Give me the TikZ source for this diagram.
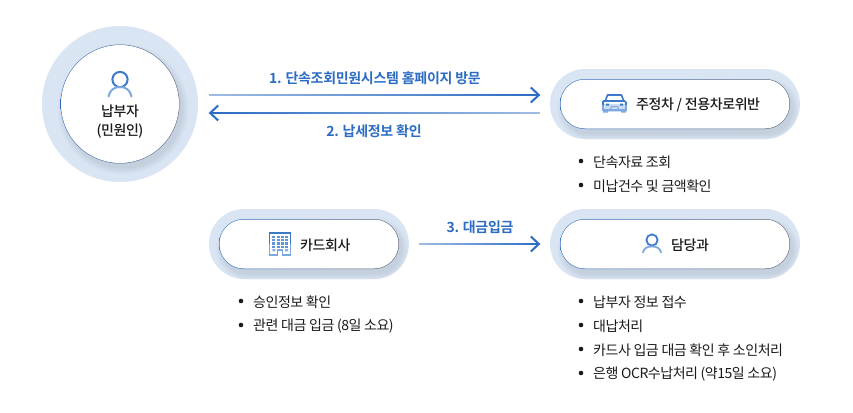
\documentclass[tikz,border=0pt]{standalone}
\usepackage{fontspec}
\setmainfont[LetterSpace=-3.4]{Noto Sans CJK KR}
\newfontfamily\medfont[LetterSpace=-3]{Noto Sans CJK KR Medium}
\newfontfamily\linkfont[LetterSpace=-2.2]{Noto Sans CJK KR Bold}
\usetikzlibrary{shapes.misc,calc,arrows.meta,fadings}
\definecolor{halo}{HTML}{DAE5F3}
\definecolor{linkblue}{HTML}{2C6CC4}
\definecolor{iconblue}{HTML}{3B7ACB}
\definecolor{iconlight}{HTML}{7DA8E0}
\definecolor{ringgrey}{HTML}{5A6070}
\definecolor{inktext}{HTML}{1A1A1A}
\tikzfading[name=linkfadeE,left color=transparent!55,right color=transparent!0]
\tikzfading[name=linkfadeW,left color=transparent!0,right color=transparent!55]
\tikzset{
  x=1pt,y=-1pt,
  haloround/.style={circle,fill=halo,minimum size=156pt,inner sep=0pt},
  halopill/.style={rounded rectangle,fill=halo,minimum height=70pt,inner sep=0pt},
  ringpill/.style={rounded rectangle,left color=linkblue,right color=ringgrey,minimum height=50pt,inner sep=0pt},
  whitepill/.style={rounded rectangle,fill=white,minimum height=49pt,inner sep=0pt},
  title/.style={font=\fontsize{14}{19}\medfont,text=inktext,inner sep=0pt},
  linktext/.style={font=\fontsize{14}{19}\linkfont,text=linkblue,inner sep=0pt},
  itemtext/.style={font=\fontsize{14}{19}\selectfont,text=inktext,anchor=west,inner sep=0pt},
  dotmark/.style={circle,fill=inktext,minimum size=4.6pt,inner sep=0pt},
  linkshaft/.style={line width=2pt,draw=linkblue},
  linkhead/.style={line width=2pt,draw=linkblue,-{Straight Barb[length=8pt,width=15pt,line width=2pt]}},
  softshadow/.style={fill=black,opacity=.012,draw=none},
  headline/.style={draw=iconblue,line width=2pt},
  shoulderline/.style={draw=iconlight,line width=2pt,line cap=round},
}
\newcommand{\pillshadow}[4]{% x1 y1 x2 y2
  \foreach \g in {0,1,...,6}{
    \fill[softshadow,rounded corners={25pt+\g pt}]
      ({#1+3-\g},{#2+5-\g}) rectangle ({#3+3+\g},{#4+5+\g});
  }}
\begin{document}
\begin{tikzpicture}
\useasboundingbox (0,0) rectangle (853,412);
\fill[white] (0,0) rectangle (853,412);

% client circle
\node[haloround] (client) at (120,104) {};
\foreach \g in {0,1,...,6}{\fill[softshadow] (123,109) circle ({59.5pt+\g pt});}
\node[circle,left color=linkblue,right color=ringgrey,minimum size=119pt,inner sep=0pt] (clientring) at (120,104) {};
\node[circle,fill=white,minimum size=118pt,inner sep=0pt] (clientin) at (120,104) {};
\draw[headline] (120,79.5) circle (7.6pt);
\draw[shoulderline] (108.5,96.5) .. controls (110,90) and (114,87) .. (120,87) .. controls (126,87) and (130,90) .. (131.5,96.5);
\node[title,align=center] (clienttext) at (120,122) {납부자\\(민원인)};

% violation
\node[halopill,minimum width=250pt] (car) at (675,104) {};
\pillshadow{560}{79}{790}{129}
\node[ringpill,minimum width=230pt] (carring) at (675,104) {};
\node[whitepill,minimum width=229pt] (carin) at (675,104) {};
\node[title,anchor=west] (cartext) at (636,105) {주정차 / 전용차로위반};
% car icon
\fill[iconlight!40] (603,104) rectangle (626,112);
\draw[iconblue,line width=1.6pt,line join=round] (605.5,100.5) -- (607.5,95) -- (621.5,95) -- (623.5,100.5);
\draw[iconblue,line width=1.6pt,rounded corners=1.5pt] (603,101) -- (626,101) -- (626,105);
\draw[iconblue,line width=1.6pt,rounded corners=1.5pt] (603,105) -- (603,101);
\draw[iconlight,line width=1.6pt] (603,105) -- (603,110) -- (626,110) -- (626,105);
\fill[iconlight] (603,110) rectangle (608,112.5) (621,110) rectangle (626,112.5);
\fill[iconblue] (606,103.5) rectangle (609,105.5) (620,103.5) rectangle (623,105.5);
\draw[iconlight,line width=1pt] (610.5,109) -- (611.5,106.5) -- (617.5,106.5) -- (618.5,109);

% card
\node[halopill,minimum width=200pt] (card) at (309,244) {};
\pillshadow{219}{219}{399}{269}
\node[ringpill,minimum width=180pt] (cardring) at (309,244) {};
\node[whitepill,minimum width=179pt] (cardin) at (309,244) {};
\node[title,anchor=west] (cardtext) at (300,245) {카드회사};
% building icon
\draw[iconlight,line width=1.5pt] (269.5,244) -- (269.5,255) -- (290.5,255) -- (290.5,244);
\draw[iconblue,line width=1.5pt] (269.5,244) -- (269.5,233) -- (290.5,233) -- (290.5,244);
\foreach \cx in {272.3,276.6,280.9,285.2}{
  \foreach \cy in {235.6,239,242.4,245.8}{
    \fill[iconblue!80] (\cx,\cy) rectangle ++(3,2.1);
  }}
\fill[iconblue!60] (272.3,249.2) rectangle ++(3,2.1) (285.2,249.2) rectangle ++(3,2.1);
\draw[iconlight,line width=1.3pt] (277.5,255) -- (277.5,250) -- (282.5,250) -- (282.5,255);
\fill[white] (278.2,250.5) rectangle (281.8,256);

% department
\node[halopill,minimum width=250pt] (dept) at (675,244) {};
\pillshadow{560}{219}{790}{269}
\node[ringpill,minimum width=230pt] (deptring) at (675,244) {};
\node[whitepill,minimum width=229pt] (deptin) at (675,244) {};
\node[title,anchor=west] (depttext) at (671,245) {담당과};
\draw[headline,line width=1.8pt] (652,240) circle (5.6pt);
\draw[shoulderline,line width=1.8pt] (643,252.5) .. controls (644,248) and (647,246.5) .. (652,246.5) .. controls (657,246.5) and (660,248) .. (661,252.5);

% connectors
\draw[linkshaft,path fading=linkfadeE,fit fading=true] ([shift={(11,-9)}]client.east) -- ([shift={(-11,-9)}]car.west);
\draw[linkhead] ([shift={(-12,-9)}]car.west) -- ([shift={(-9.5,-9)}]car.west);
\draw[linkshaft,path fading=linkfadeW,fit fading=true] ([shift={(-10,9)}]car.west) -- ([shift={(12,9)}]client.east);
\draw[linkhead] ([shift={(13,9)}]client.east) -- ([shift={(10.5,9)}]client.east);
\draw[linkshaft,path fading=linkfadeE,fit fading=true] ([xshift=10pt]card.east) -- ([xshift=-11pt]dept.west);
\draw[linkhead] ([xshift=-12pt]dept.west) -- ([xshift=-9.5pt]dept.west);
\node[linktext] (lab1) at (375,78) {1. 단속조회민원시스템 홈페이지 방문};
\node[linktext] (lab2) at (374,131) {2. 납세정보 확인};
\node[linktext] (lab3) at (480,227) {3. 대금입금};

% lists
\foreach \nm/\bx/\tx/\y/\t in {
  a1/581/593/161/단속자료 조회,
  a2/581/593/185/미납건수 및 금액확인,
  b1/241/253/301/승인정보 확인,
  b2/241/253/325/관련 대금 입금 (8일 소요),
  c1/581/593/301/납부자 정보 접수,
  c2/581/593/325/대납처리,
  c3/581/593/349/카드사 입금 대금 확인 후 소인처리,
  c4/581/593/373/은행 OCR수납처리 (약15일 소요)}{
  \node[dotmark] (dot\nm) at (\bx,\y) {};
  \node[itemtext] (item\nm) at (\tx,\y+0.8) {\t};
}
\end{tikzpicture}
\end{document}
